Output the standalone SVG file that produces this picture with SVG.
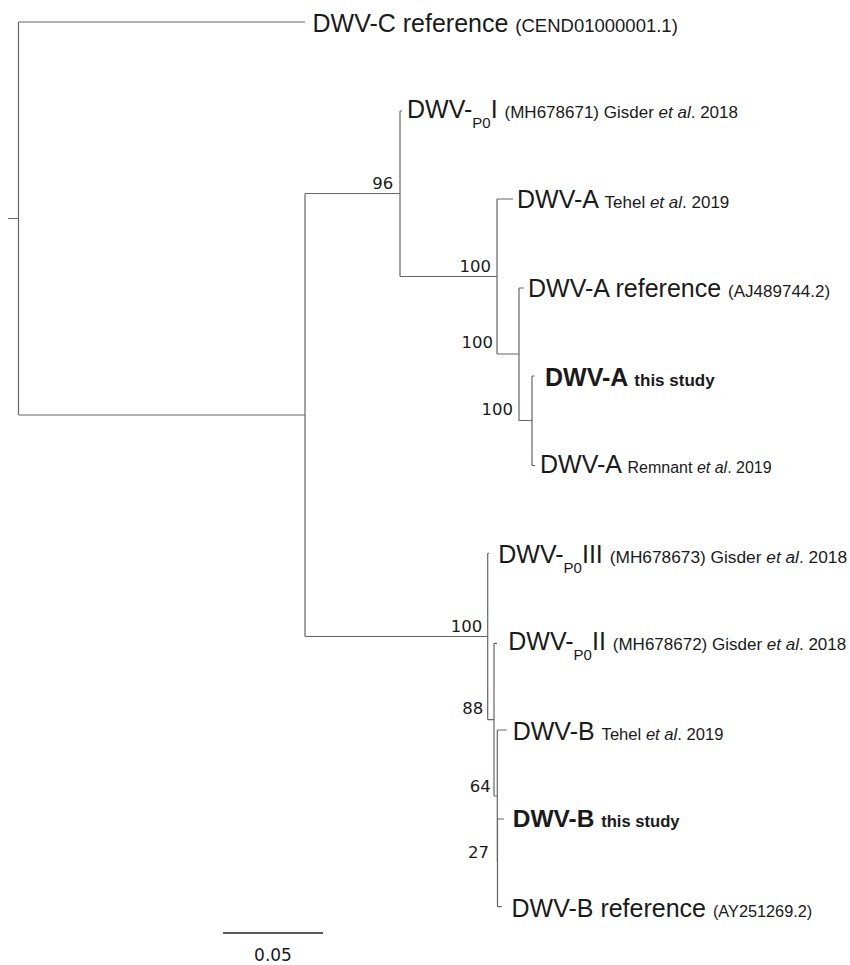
<svg xmlns="http://www.w3.org/2000/svg" width="850" height="965" viewBox="0 0 850 965">
<style>
.br{fill:none;stroke:#666;stroke-width:1.2}
.lab{font-family:"Liberation Sans",Arial,sans-serif;font-size:25px;fill:#1a1a1a}
.s{font-size:17px}
.sub{font-size:15px}
.b{font-weight:bold}
.i{font-style:italic}
.bs{font-family:"DejaVu Sans",sans-serif;font-size:16.5px;fill:#1a1a1a;text-anchor:end}
</style>
<rect width="850" height="965" fill="#fff"/>
<g id="connectors" class="br">
<path d="M8,218.5 H18.5 M18.5,22 V415 M18.5,22 H305 M18.5,415 H305"/>
<path d="M305,193.5 V636.5 M305,193.5 H400 M400,111 V276.5 M400,111 H402 M400,276.5 H497"/>
<path d="M497,199 V354 M497,199 H513 M497,354 H519 M519,288 V420.5 M519,288 H524 M519,420.5 H532 M532,376 V465.5 M532,376 H534.5 M532,465.5 H535"/>
<path d="M305,636.5 H487.7 M487.7,553.3 V719.7 M487.7,553.3 H489 M487.7,719.7 H494 M494,643.3 V796 M494,643.3 H497 M494,796 H497.3 M497.3,730 V861.7 M497.3,730 H506.7 M497.3,861.7 H497.5 M497.5,819 V906.7 M497.5,819 H504 M497.5,906.7 H501.7"/>
</g>
<g id="leaf-dwvc"><text class="lab" x="312.5" y="32">DWV-C reference <tspan style="font-size:18.5px">(CEND01000001.1)</tspan></text></g>
<g id="leaf-p0i"><text class="lab" x="407" y="118">DWV-<tspan class="sub" dy="10">P0</tspan><tspan dy="-10">I </tspan><tspan class="s">(MH678671) Gisder <tspan class="i">et al</tspan>. 2018</tspan></text></g>
<g id="leaf-a-tehel"><text class="lab" x="517" y="208">DWV-A <tspan class="s">Tehel <tspan class="i">et al</tspan>. 2019</tspan></text></g>
<g id="leaf-a-ref"><text class="lab" x="528" y="297">DWV-A reference <tspan class="s">(AJ489744.2)</tspan></text></g>
<g id="leaf-a-study"><text class="lab b" x="545" y="386">DWV-A <tspan class="s">this study</tspan></text></g>
<g id="leaf-a-remnant"><text class="lab" x="540" y="472.5">DWV-A <tspan style="font-size:16px">Remnant <tspan class="i">et al</tspan>. 2019</tspan></text></g>
<g id="leaf-p0iii"><text class="lab" x="498.3" y="563">DWV-<tspan class="sub" dy="10">P0</tspan><tspan dy="-10">III </tspan><tspan style="font-size:17.3px">(MH678673) Gisder <tspan class="i">et al</tspan>. 2018</tspan></text></g>
<g id="leaf-p0ii"><text class="lab" x="508.3" y="650">DWV-<tspan class="sub" dy="10">P0</tspan><tspan dy="-10">II </tspan><tspan class="s">(MH678672) Gisder <tspan class="i">et al</tspan>. 2018</tspan></text></g>
<g id="leaf-b-tehel"><text class="lab" x="512.7" y="740">DWV-B <tspan style="font-size:16.6px">Tehel <tspan class="i">et al</tspan>. 2019</tspan></text></g>
<g id="leaf-b-study"><text class="lab b" x="512.7" y="827" style="font-size:24.5px">DWV-B <tspan style="font-size:16.6px">this study</tspan></text></g>
<g id="leaf-b-ref"><text class="lab" x="511.5" y="916.5">DWV-B reference <tspan style="font-size:16.3px">(AY251269.2)</tspan></text></g>
<g id="node-96"><text class="bs" x="393.3" y="188.5">96</text></g>
<g id="node-a100a"><text class="bs" x="491" y="272">100</text></g>
<g id="node-a100b"><text class="bs" x="493" y="348">100</text></g>
<g id="node-a100c"><text class="bs" x="513" y="415">100</text></g>
<g id="node-b100"><text class="bs" x="482.3" y="631.7">100</text></g>
<g id="node-88"><text class="bs" x="483.3" y="714.3">88</text></g>
<g id="node-64"><text class="bs" x="490.7" y="791.7">64</text></g>
<g id="node-27"><text class="bs" x="489" y="858">27</text></g>
<g id="scale">
<path d="M223,933 H323" stroke="#222" stroke-width="1.6" fill="none"/>
<text class="bs" x="273" y="961" style="text-anchor:middle;font-size:17px">0.05</text>
</g>
</svg>
